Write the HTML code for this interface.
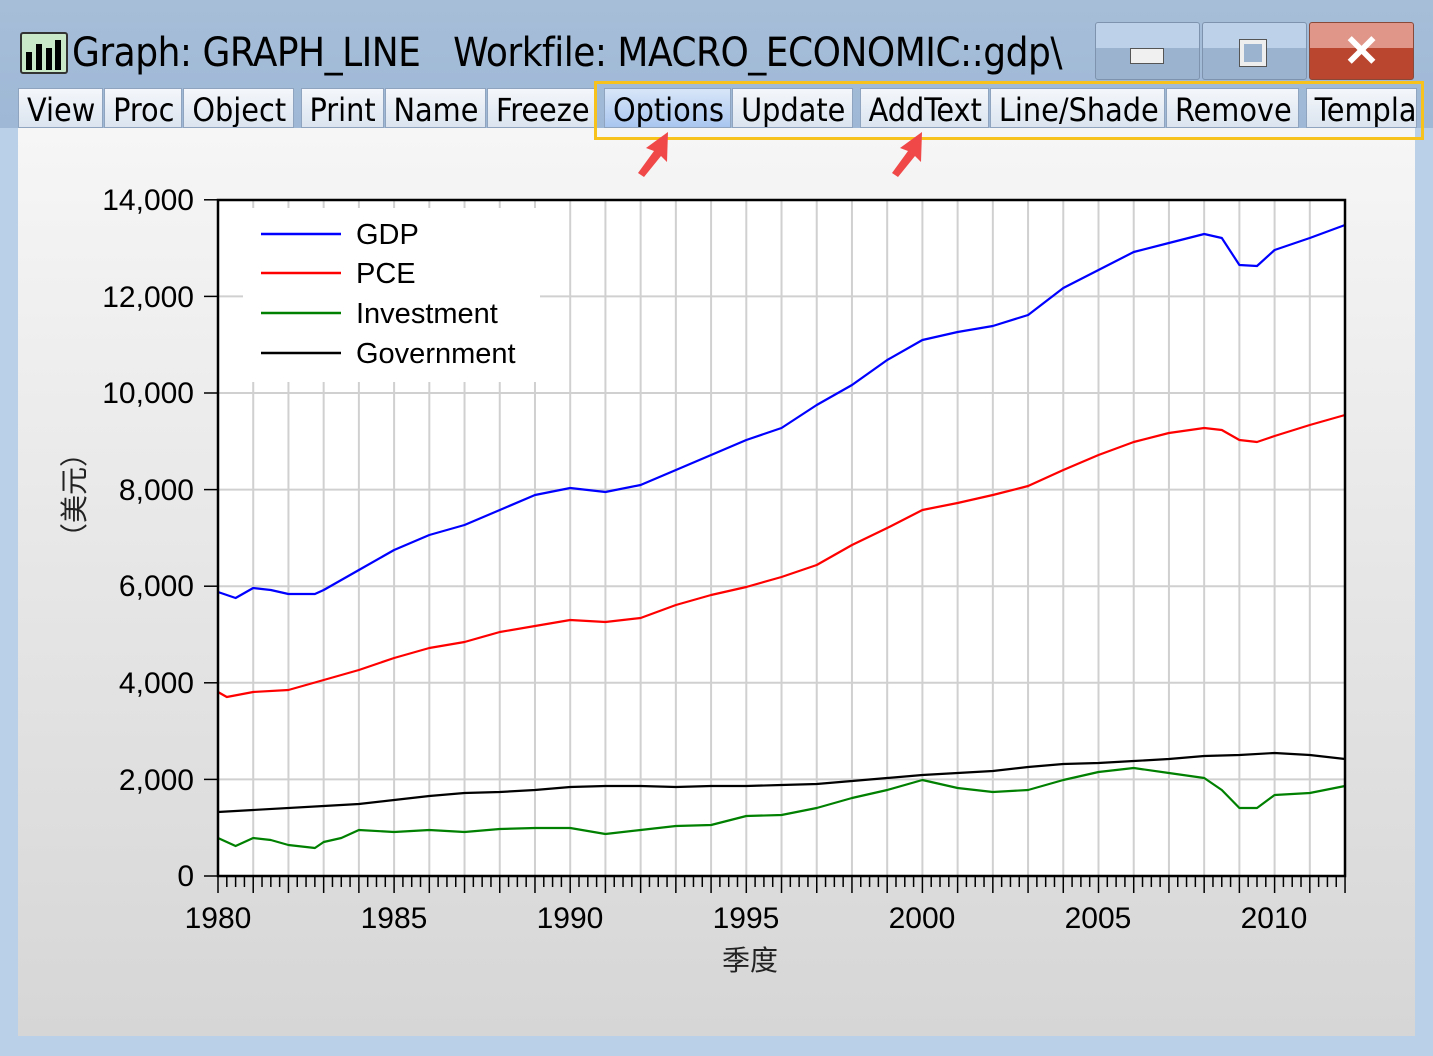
<!DOCTYPE html>
<html><head><meta charset="utf-8"><style>
body{margin:0;width:1433px;height:1056px;overflow:hidden;background:#b9d0e8;font-family:"Liberation Sans","Noto Sans CJK SC",sans-serif;position:relative}
.tb{position:absolute;left:0;top:0;width:1433px;height:128px;background:linear-gradient(#a7bed8,#9eb8d6)}
.title{position:absolute;left:72px;top:30px;font-size:40px;color:#000;white-space:pre;font-family:"DejaVu Sans Condensed","Liberation Sans",sans-serif;letter-spacing:-0.5px}
.btns{position:absolute;left:18px;top:88px;height:40px;width:1400px;display:flex}
.btns div{height:38px;border:1px solid #8ea4bf;background:linear-gradient(#f4f7fb,#dbe4ef);font-size:32px;line-height:42px;padding:0 8px 0 8px;margin-right:1px;font-family:"DejaVu Sans Condensed","Liberation Sans",sans-serif;overflow:hidden;white-space:nowrap}
.content{position:absolute;left:18px;top:128px;width:1397px;height:908px;background:linear-gradient(#f6f6f6,#d6d6d6)}
</style></head><body>
<div class="tb"></div>
<div style="position:absolute;left:20px;top:32px;width:44px;height:38px;background:#c8e8c8;border:2px solid #333;border-radius:3px"></div>
<div style="position:absolute;left:26px;top:52px;width:6px;height:18px;background:#000"></div>
<div style="position:absolute;left:36px;top:44px;width:6px;height:26px;background:#000"></div>
<div style="position:absolute;left:46px;top:48px;width:6px;height:22px;background:#000"></div>
<div style="position:absolute;left:55px;top:40px;width:6px;height:30px;background:#000"></div>
<div class="title">Graph: GRAPH_LINE   Workfile: MACRO_ECONOMIC::gdp\</div>
<div style="position:absolute;left:1095px;top:22px;width:103px;height:56px;border:1px solid #7d93ae;background:linear-gradient(#bdd1e8 0 45%,#9cb3d0 45%);border-radius:3px"></div>
<div style="position:absolute;left:1130px;top:48px;width:32px;height:14px;background:#f0f0f0;border:1px solid #555"></div>
<div style="position:absolute;left:1202px;top:22px;width:103px;height:56px;border:1px solid #7d93ae;background:linear-gradient(#bdd1e8 0 45%,#9cb3d0 45%);border-radius:3px"></div>
<div style="position:absolute;left:1240px;top:40px;width:18px;height:18px;background:#9cb3d0;border:4px solid #eee;outline:1px solid #555"></div>
<div style="position:absolute;left:1309px;top:22px;width:103px;height:56px;border:1px solid #8a4a3a;background:linear-gradient(#e0978a 0 45%,#bb4630 45%);border-radius:3px;color:#fff;font-size:44px;font-weight:bold;text-align:center;line-height:58px">✕</div>
<div class="btns">
<div>View</div><div>Proc</div><div>Object</div><div style="margin-left:6px">Print</div><div>Name</div><div>Freeze</div><div style="margin-left:6px;background:linear-gradient(#d8e6f8,#a9c6ef)">Options</div><div>Update</div><div style="margin-left:6px">AddText</div><div>Line/Shade</div><div>Remove</div><div style="margin-left:6px;width:95px">Template</div>
</div>
<div class="content"></div>
<div style="position:absolute;left:594px;top:81px;width:830px;height:59px;border:3px solid #f7c21c;box-sizing:border-box"></div>
<svg style="position:absolute;left:0;top:0" width="1433" height="1056">
<g fill="#f04848"><path d="M668 132 l-22 16 l8 3 l-16 22 l6 4 l17 -21 l6 6z"/><path d="M922 132 l-22 16 l8 3 l-16 22 l6 4 l17 -21 l6 6z"/></g>
<rect x="218" y="200" width="1127" height="676" fill="#fff"/>
<g id="grid" stroke="#d0d0d0" stroke-width="2"></g>
<rect x="243" y="208" width="297" height="174" fill="#fff"/>
<g id="series" fill="none" stroke-width="2.2" stroke-linejoin="round"></g>
<rect x="218" y="200" width="1127" height="676" fill="none" stroke="#000" stroke-width="2.5"/>
<g id="ticks" stroke="#000" stroke-width="1.5"></g>
<g font-size="30" text-anchor="end" fill="#000">
<text x="194" y="210">14,000</text><text x="194" y="307">12,000</text><text x="194" y="403">10,000</text><text x="194" y="500">8,000</text><text x="194" y="596">6,000</text><text x="194" y="693">4,000</text><text x="194" y="790">2,000</text><text x="194" y="886">0</text>
</g>
<g font-size="30" text-anchor="middle" fill="#000">
<text x="218" y="928">1980</text><text x="394" y="928">1985</text><text x="570" y="928">1990</text><text x="746" y="928">1995</text><text x="922" y="928">2000</text><text x="1098" y="928">2005</text><text x="1274" y="928">2010</text>
</g>
<text x="750" y="970" font-size="28" text-anchor="middle" fill="#222" font-family="Noto Sans CJK SC,sans-serif">季度</text>
<text transform="translate(84,495) rotate(-90)" font-size="28" text-anchor="middle" fill="#222" font-family="Noto Sans CJK SC,sans-serif">（美元）</text>
<g stroke-width="2.5"><line x1="261" y1="234" x2="341" y2="234" stroke="#0000ff"/><line x1="261" y1="273" x2="341" y2="273" stroke="#ff0000"/><line x1="261" y1="313" x2="341" y2="313" stroke="#008000"/><line x1="261" y1="353" x2="341" y2="353" stroke="#000"/></g>
<g font-size="29" fill="#000"><text x="356" y="244">GDP</text><text x="356" y="283">PCE</text><text x="356" y="323">Investment</text><text x="356" y="363">Government</text></g>
</svg>
<script>
var X=function(y){return 218+35.22*(y-1980)};
var g=document.getElementById('grid'),s='';
for(var y=1981;y<2012;y++)s+='<line x1="'+X(y)+'" y1="200" x2="'+X(y)+'" y2="876"/>';
for(var v=1;v<7;v++){var yy=876-v*96.6;s+='<line x1="218" y1="'+yy+'" x2="1345" y2="'+yy+'"/>';}
g.innerHTML=s;
var t='';
for(var q=0;q<=128;q++){var x=218+q*35.22/4;t+='<line x1="'+x+'" y1="876" x2="'+x+'" y2="'+(q%4==0?893:887)+'"/>';}
for(var v=0;v<8;v++){var yy=876-v*96.6;t+='<line x1="204" y1="'+yy+'" x2="218" y2="'+yy+'"/>';}
document.getElementById('ticks').innerHTML=t;
var D={
'#0000ff':[[1980,592],[1980.5,598],[1981,588],[1981.5,590],[1982,594],[1982.75,594],[1983,590],[1984,570],[1985,550],[1986,535],[1987,525],[1988,510],[1989,495],[1990,488],[1991,492],[1992,485],[1993,470],[1994,455],[1995,440],[1996,428],[1997,405],[1998,385],[1999,360],[2000,340],[2001,332],[2002,326],[2003,315],[2004,288],[2005,270],[2006,252],[2007,243],[2008,234],[2008.5,238],[2009,265],[2009.5,266],[2010,250],[2011,238],[2012,225]],
'#ff0000':[[1980,692],[1980.25,697],[1981,692],[1982,690],[1983,680],[1984,670],[1985,658],[1986,648],[1987,642],[1988,632],[1989,626],[1990,620],[1991,622],[1992,618],[1993,605],[1994,595],[1995,587],[1996,577],[1997,565],[1998,545],[1999,528],[2000,510],[2001,503],[2002,495],[2003,486],[2004,470],[2005,455],[2006,442],[2007,433],[2008,428],[2008.5,430],[2009,440],[2009.5,442],[2010,436],[2011,425],[2012,415]],
'#008000':[[1980,838],[1980.5,846],[1981,838],[1981.5,840],[1982,845],[1982.75,848],[1983,842],[1983.5,838],[1984,830],[1985,832],[1986,830],[1987,832],[1988,829],[1989,828],[1990,828],[1991,834],[1992,830],[1993,826],[1994,825],[1995,816],[1996,815],[1997,808],[1998,798],[1999,790],[2000,780],[2001,788],[2002,792],[2003,790],[2004,780],[2005,772],[2006,768],[2007,773],[2008,778],[2008.5,790],[2009,808],[2009.5,808],[2010,795],[2011,793],[2012,786]],
'#000000':[[1980,812],[1981,810],[1983,806],[1984,804],[1985,800],[1986,796],[1987,793],[1988,792],[1989,790],[1990,787],[1991,786],[1992,786],[1993,787],[1994,786],[1995,786],[1996,785],[1997,784],[1998,781],[1999,778],[2000,775],[2001,773],[2002,771],[2003,767],[2004,764],[2005,763],[2006,761],[2007,759],[2008,756],[2009,755],[2010,753],[2011,755],[2012,759]]};
var h='';for(var c in D){h+='<polyline stroke="'+c+'" points="'+D[c].map(function(p){return X(p[0]).toFixed(1)+','+p[1]}).join(' ')+'"/>';}
document.getElementById('series').innerHTML=h;
</script>
</body></html>
